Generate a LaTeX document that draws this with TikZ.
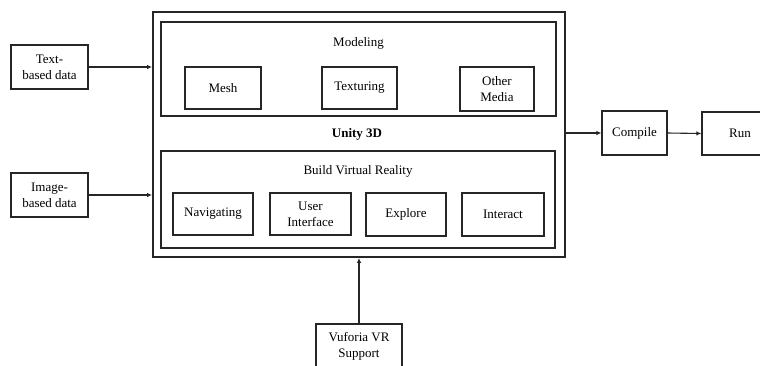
\documentclass[tikz,border=0pt]{standalone}
\usepackage{fontspec}
\setmainfont{Liberation Serif}
\usetikzlibrary{positioning, calc, arrows.meta}

\tikzset{
    blk/.style={draw=black!85, line width=1.2pt, align=center, inner sep=1pt,
        minimum width=#1, minimum height=42pt},
    blk/.default=78pt,
    panel/.style={draw=black!85, line width=1.3pt},
    flow/.style={draw=black!85, line width=1.1pt, -{Latex[length=5pt,width=4.5pt]}}
}

\begin{document}
\begin{tikzpicture}[x=1pt, y=-1pt, font=\fontsize{13}{16}\selectfont]
    \clip (0,0) rectangle (760,365);

    %Main frame
    \node[panel, line width=1.8pt, minimum width=412pt, minimum height=245pt] (unity) at (359,134.5) {};
    \node[font=\fontsize{13}{16}\selectfont\bfseries] (unitylbl) at (357,134) {Unity 3D};

    %Modeling
    \node[panel, minimum width=395pt, minimum height=94pt] (model) at (358.5,69) {};
    \node (modellbl) at (358.5,43) {Modeling};
    \node[blk=76pt] (mesh) at (223,88) {Mesh};
    \node[blk=75pt] (tex) at (359.5,88) {Texturing};
    \node[blk=74pt, minimum height=44pt] (media) at (497,89) {Other\\Media};

    %Build VR
    \node[panel, minimum width=394pt, minimum height=97pt] (build) at (358,199.5) {};
    \node (buildlbl) at (358,171) {Build Virtual Reality};
    \node[blk=80pt] (nav) at (213,214) {Navigating};
    \node[blk=81pt] (ui) at (310.5,214) {User\\Interface};
    \node[blk=80pt, minimum height=43pt] (explore) at (406,214.5) {Explore};
    \node[blk=82pt, minimum height=43pt] (interact) at (503,214.5) {Interact};

    %Inputs
    \node[blk=77pt, minimum height=44pt] (textdata) at (49.5,67) {Text-\\based data};
    \node[blk=77pt, minimum height=44pt] (imgdata) at (49.5,195) {Image-\\based data};
    \node[blk=86pt, minimum height=44pt] (vuforia) at (359,346) {Vuforia VR\\Support};

    %Outputs
    \node[blk=65pt, minimum height=44pt] (compile) at (634.5,133) {Compile};
    \node[blk=76pt, minimum height=43pt] (run) at (740,133.5) {Run};

    %Lines
    \draw[flow] (textdata.east) -- (textdata.east -| unity.west);
    \draw[flow] (imgdata.east) -- (imgdata.east -| unity.west);
    \draw[flow] (vuforia.north) -- (vuforia.north |- unity.south);
    \draw[flow] (compile.west -| unity.east) -- (compile.west);
    \draw[flow] (compile.east) -- (run.west);
\end{tikzpicture}
\end{document}
